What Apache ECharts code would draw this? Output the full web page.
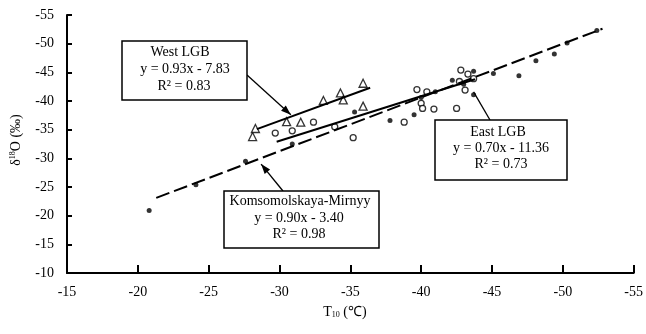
<!DOCTYPE html>
<html>
<head>
<meta charset="utf-8">
<script src="https://cdn.jsdelivr.net/npm/echarts@6/dist/echarts.min.js"></script>
<style>
	html, body { margin: 0; padding: 0; background: #fff; }
	#chart { width: 646px; height: 334px; }
</style>
</head>
<body>
<div id="chart"></div>
<script>
const FONT = 'Liberation Serif';

// T10 (x) and d18O (y)
const komsomolskayaPoints = [
	[ -20.8, -20.9 ], [ -24.1, -25.4 ], [ -27.6, -29.5 ], [ -30.9, -32.5 ],
	[ -35.3, -38.1 ], [ -37.8, -36.6 ], [ -39.5, -37.6 ], [ -40.0, -40.6 ],
	[ -41.0, -41.6 ], [ -42.2, -43.6 ], [ -43.0, -42.9 ], [ -43.7, -45.2 ],
	[ -43.7, -41.1 ], [ -45.1, -44.8 ], [ -46.9, -44.4 ], [ -48.1, -47.0 ],
	[ -49.4, -48.2 ], [ -50.3, -50.1 ], [ -52.4, -52.3 ]
];
const eastPoints = [
	[ -29.7, -34.4 ], [ -30.9, -34.8 ], [ -32.4, -36.3 ], [ -33.9, -35.5 ],
	[ -35.2, -33.6 ], [ -38.8, -36.3 ], [ -39.7, -42.0 ], [ -40.4, -41.6 ],
	[ -40.0, -39.6 ], [ -40.1, -38.7 ], [ -40.9, -38.6 ], [ -42.5, -38.7 ],
	[ -42.8, -45.4 ], [ -43.3, -44.7 ], [ -43.7, -43.9 ], [ -42.7, -43.4 ],
	[ -43.1, -41.9 ]
];
const westPoints = [
	[ -28.1, -33.8 ], [ -28.3, -35.2 ], [ -30.5, -36.4 ], [ -31.5, -36.3 ],
	[ -33.1, -40.1 ], [ -34.3, -41.4 ], [ -34.5, -40.2 ], [ -35.9, -43.1 ],
	[ -35.9, -39.1 ]
];

// fitted lines, end points
const komsomolskayaFit = [ [ -21.3, -23.1 ], [ -52.8, -52.6 ] ];
const eastFit = [ [ -29.8, -32.9 ], [ -43.8, -43.8 ] ];
const westFit = [ [ -28.4, -35.1 ], [ -36.4, -42.3 ] ];

// where the callout lines touch the chart
const westTip = [ -30.8, -37.6 ];
const eastTip = [ -43.7, -41.6 ];
const komsomolskayaTip = [ -28.7, -29.0 ];

const xRange = [ -55, -15 ];
const yRange = [ -55, -10 ];

const chart = echarts.init( document.getElementById( 'chart' ) );

const axisCommon = {
	type: 'value',
	interval: 5,
	inverse: true,
	splitLine: { show: false },
	axisLine: { onZero: false, lineStyle: { color: '#000', width: 2 } },
	axisTick: { inside: true, lineStyle: { color: '#000', width: 2 } },
	axisLabel: { color: '#000', fontFamily: FONT, fontSize: 14 }
};

function fitLine( data, dashed ) {
	return {
		type: 'line',
		data: data,
		symbol: 'none',
		silent: true,
		lineStyle: { color: '#000', width: 2, type: dashed ? [ 14, 5 ] : 'solid' }
	};
}

chart.setOption( {
	animation: false,
	grid: { left: 67, right: 8, top: 15, bottom: 61 },
	xAxis: Object.assign( {}, axisCommon, {
		min: xRange[ 0 ],
		max: xRange[ 1 ],
		axisTick: { inside: true, length: 8, lineStyle: { color: '#000', width: 2 } },
		axisLabel: { color: '#000', fontFamily: FONT, fontSize: 14, margin: 12 }
	} ),
	yAxis: Object.assign( {}, axisCommon, {
		min: yRange[ 0 ],
		max: yRange[ 1 ],
		axisTick: { inside: true, length: 5, lineStyle: { color: '#000', width: 2 } },
		axisLabel: { color: '#000', fontFamily: FONT, fontSize: 14, margin: 13 }
	} ),
	series: [
		{
			type: 'scatter',
			name: 'Komsomolskaya-Mirnyy',
			data: komsomolskayaPoints,
			symbol: 'circle',
			symbolSize: 5,
			itemStyle: { color: '#000' }
		},
		{
			type: 'scatter',
			name: 'East LGB',
			data: eastPoints,
			symbol: 'circle',
			symbolSize: 6,
			itemStyle: { color: '#fff', borderColor: '#000', borderWidth: 1.3 }
		},
		{
			type: 'scatter',
			name: 'West LGB',
			data: westPoints,
			symbol: 'triangle',
			symbolSize: 8,
			itemStyle: { color: '#fff', borderColor: '#000', borderWidth: 1.3 }
		},
		fitLine( westFit, false ),
		fitLine( eastFit, false ),
		fitLine( komsomolskayaFit, true )
	]
} );

function toPx( p ) {
	return chart.convertToPixel( { gridIndex: 0 }, p );
}

function label( text, x, y ) {
	return {
		type: 'text',
		x: x,
		y: y,
		style: {
			text: text,
			fill: '#000',
			font: '14px "' + FONT + '"',
			align: 'center',
			verticalAlign: 'middle'
		},
		z: 20
	};
}

function box( x, y, w, h, lines ) {
	const items = [ {
		type: 'rect',
		shape: { x: x, y: y, width: w, height: h },
		style: { fill: '#fff', stroke: '#000', lineWidth: 1.5 },
		z: 19
	} ];
	lines.forEach( ( l ) => items.push( label( l[ 0 ], l[ 1 ], l[ 2 ] ) ) );
	return items;
}

function pointer( from, tipValue, withHead ) {
	const tip = toPx( tipValue );
	const items = [ {
		type: 'line',
		shape: { x1: from[ 0 ], y1: from[ 1 ], x2: tip[ 0 ], y2: tip[ 1 ] },
		style: { stroke: '#000', lineWidth: 1.3 },
		z: 18
	} ];
	if ( withHead ) {
		const dx = tip[ 0 ] - from[ 0 ];
		const dy = tip[ 1 ] - from[ 1 ];
		const len = Math.sqrt( dx * dx + dy * dy );
		const ux = dx / len;
		const uy = dy / len;
		const bx = tip[ 0 ] - ux * 10;
		const by = tip[ 1 ] - uy * 10;
		items.push( {
			type: 'polygon',
			shape: { points: [
				[ tip[ 0 ], tip[ 1 ] ],
				[ bx - uy * 3.5, by + ux * 3.5 ],
				[ bx + uy * 3.5, by - ux * 3.5 ]
			] },
			style: { fill: '#000' },
			z: 18
		} );
	}
	return items;
}

const graphics = [].concat(
	pointer( [ 247, 75 ], westTip, true ),
	pointer( [ 490, 120 ], eastTip, false ),
	pointer( [ 283, 191 ], komsomolskayaTip, true ),
	box( 122, 41, 125, 59, [
		[ 'West LGB', 180, 52 ],
		[ 'y = 0.93x - 7.83', 185, 69 ],
		[ 'R² = 0.83', 184, 86 ]
	] ),
	box( 435, 120, 132, 60, [
		[ 'East LGB', 498, 132 ],
		[ 'y = 0.70x - 11.36', 501, 148 ],
		[ 'R² = 0.73', 501, 164 ]
	] ),
	box( 224, 191, 155, 57, [
		[ 'Komsomolskaya-Mirnyy', 300, 201 ],
		[ 'y = 0.90x - 3.40', 299, 218 ],
		[ 'R² = 0.98', 299, 234 ]
	] ),
	[
		{
			type: 'text',
			x: 345,
			y: 312,
			style: {
				text: '{b|T}{s|10}{b| (℃)}',
				align: 'center',
				verticalAlign: 'middle',
				fill: '#000',
				rich: {
					b: { fontFamily: FONT, fontSize: 14, fill: '#000' },
					s: { fontFamily: FONT, fontSize: 8, fill: '#000', verticalAlign: 'bottom', padding: [ 6, 0, 0, 0 ] }
				}
			}
		},
		{
			type: 'text',
			x: 16,
			y: 140,
			rotation: Math.PI / 2,
			style: {
				text: '{b|δ}{s|18}{b|O (‰)}',
				align: 'center',
				verticalAlign: 'middle',
				fill: '#000',
				rich: {
					b: { fontFamily: FONT, fontSize: 14, fill: '#000' },
					s: { fontFamily: FONT, fontSize: 8, fill: '#000', verticalAlign: 'top', padding: [ 0, 0, 6, 0 ] }
				}
			}
		}
	]
);

chart.setOption( { graphic: graphics } );
</script>
</body>
</html>
